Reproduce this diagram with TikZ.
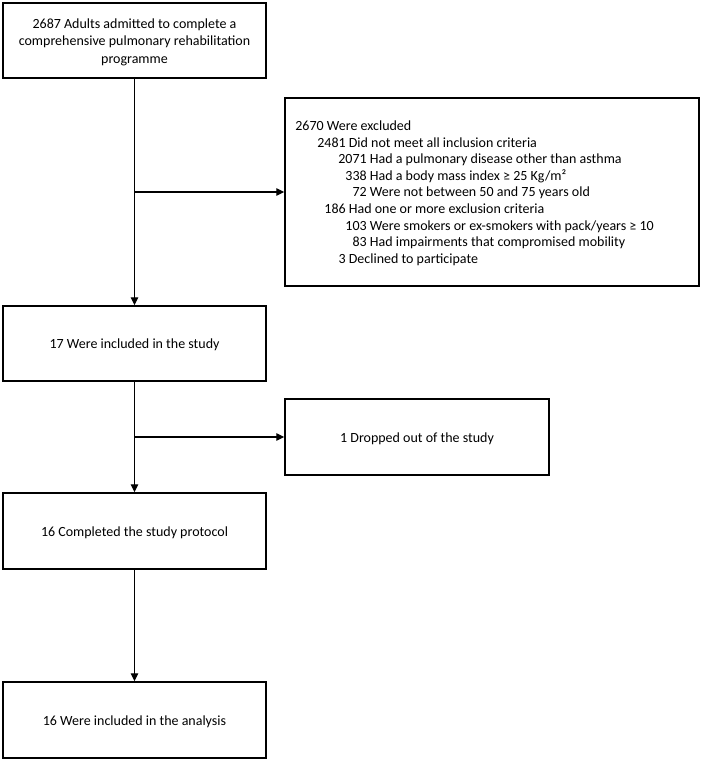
\documentclass[tikz,border=0pt]{standalone}
\usepackage{fontspec}
\setmainfont{Carlito}
\usetikzlibrary{arrows.meta}
\begin{document}
\begin{tikzpicture}[x=1pt,y=-1pt,
  box/.style={draw, line width=1.4pt, rectangle, inner sep=0pt,
    minimum width=263pt, minimum height=75pt},
  boxtext/.style={align=center, inner sep=0pt, yshift=-1.5pt, font=\fontsize{14}{17.5}\selectfont},
  ln/.style={anchor=base west, inner sep=0pt, font=\fontsize{14}{16.6}\selectfont},
  flow/.style={line width=1.2pt, -{Triangle[length=8pt,width=7.5pt]}}]
\useasboundingbox (0,0) rectangle (702,760);
\node[box, label={[boxtext]center:{2687 Adults admitted to complete a\\comprehensive pulmonary rehabilitation\\programme}}] (adm) at (134.5,40.5) {};
\node[box, minimum width=414pt, minimum height=188pt] (exc) at (492,192) {};
\node[box, label={[boxtext]center:{17 Were included in the study}}] (inc) at (134.5,343.5) {};
\node[box, minimum width=264pt, minimum height=76pt, label={[boxtext]center:{1 Dropped out of the study}}] (drop) at (417,437) {};
\node[box, minimum height=76pt, label={[boxtext]center:{16 Completed the study protocol}}] (comp) at (134.5,531) {};
\node[box, minimum height=76pt, label={[boxtext]center:{16 Were included in the analysis}}] (ana) at (134.5,720) {};
% exclusion text
\node[ln] (l1) at (323.5,130.5) {\llap{2670} Were excluded};
\node[ln] (l2) at (345.5,147.1) {\llap{2481} Did not meet all inclusion criteria};
\node[ln] (l3) at (366.5,163.7) {\llap{2071} Had a pulmonary disease other than asthma};
\node[ln] (l4) at (366.5,180.3) {\llap{338} Had a body mass index ≥ 25 Kg/m²};
\node[ln] (l5) at (366.5,196.9) {\llap{72} Were not between 50 and 75 years old};
\node[ln] (l6) at (345.5,213.5) {\llap{186} Had one or more exclusion criteria};
\node[ln] (l7) at (366.5,230.1) {\llap{103} Were smokers or ex-smokers with pack/years ≥ 10};
\node[ln] (l8) at (366.5,246.7) {\llap{83} Had impairments that compromised mobility};
\node[ln] (l9) at (345.5,263.3) {\llap{3} Declined to participate};
% connectors
\draw[flow] (adm.south) -- (inc.north);
\coordinate (b1) at (adm.south |- exc.west);
\draw[flow] (b1) -- (exc.west);
\draw[flow] (inc.south) -- (comp.north);
\coordinate (b2) at (inc.south |- drop.west);
\draw[flow] (b2) -- (drop.west);
\draw[flow] (comp.south) -- (ana.north);
\end{tikzpicture}
\end{document}
